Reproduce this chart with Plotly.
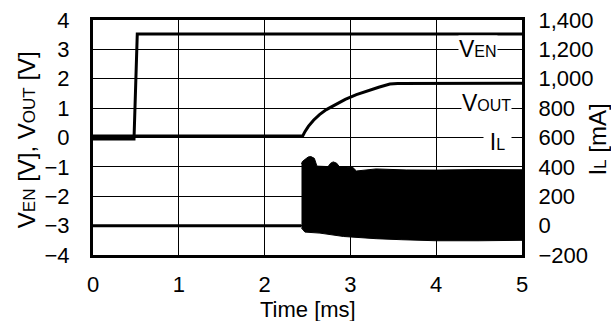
import plotly.graph_objects as go

# ---- data ----
ven_t = [0, 0.478, 0.516, 5]
ven_v = [-0.05, -0.05, 3.52, 3.52]

vout_t = [0, 2.444, 2.47, 2.51, 2.57, 2.64, 2.72, 2.82, 2.94, 3.07, 3.2, 3.33, 3.46, 3.55, 5]
vout_v = [0.05, 0.05, 0.2, 0.38, 0.59, 0.78, 0.95, 1.12, 1.30, 1.46, 1.59, 1.71, 1.82, 1.84, 1.85]

il_pre_t = [0, 2.43]
il_pre_ma = [0, 0]

# envelope of the fast-switching inductor current (mA)
il_top_t = [2.43, 2.44, 2.48, 2.51, 2.54, 2.58, 2.61, 2.74, 2.77, 2.80, 2.84, 2.87, 3.03, 3.07, 3.3, 3.65, 4.0, 4.5, 5.0]
il_top_ma = [420, 436, 455, 468, 470, 458, 405, 402, 425, 434, 425, 402, 395, 372, 386, 379, 378, 382, 380]
il_bot_t = [2.43, 2.47, 2.645, 2.92, 3.3, 3.6, 4.0, 4.5, 5.0]
il_bot_ma = [-17, -44, -51, -74, -89, -96, -103, -103, -100]

x_ticks = [0, 1, 2, 3, 4, 5]
left_ticks = [-4, -3, -2, -1, 0, 1, 2, 3, 4]
right_ticks = [-200, 0, 200, 400, 600, 800, 1000, 1200, 1400]

FONT = "Liberation Sans, Arial, sans-serif"
FS = 22      # tick labels, x title
FT = 24      # y titles
FT_SUB = 17
FL = 23      # in-plot labels
FL_SUB = 16

fig = go.Figure()

band_x = il_top_t + il_bot_t[::-1]
band_y = il_top_ma + il_bot_ma[::-1]
fig.add_trace(go.Scatter(x=band_x, y=band_y, yaxis="y2", mode="lines",
                         fill="toself", fillcolor="black",
                         line=dict(color="black", width=1), hoverinfo="skip"))
fig.add_trace(go.Scatter(x=il_pre_t, y=il_pre_ma, yaxis="y2", mode="lines",
                         line=dict(color="black", width=3)))
fig.add_trace(go.Scatter(x=ven_t, y=ven_v, mode="lines",
                         line=dict(color="black", width=3)))
fig.add_trace(go.Scatter(x=vout_t, y=vout_v, mode="lines",
                         line=dict(color="black", width=3)))

axis_common = dict(showline=True, linecolor="black", linewidth=3,
                   gridcolor="black", gridwidth=1, zeroline=False, automargin=False,
                   tickfont=dict(size=FS, color="black", family=FONT), ticks="")

fig.update_layout(
    width=611, height=321, autosize=False,
    margin=dict(l=93, r=89, t=20, b=66),
    paper_bgcolor="white", plot_bgcolor="white",
    showlegend=False,
    font=dict(family=FONT, size=FS, color="black"),
    xaxis=dict(range=[0, 5], tickvals=x_ticks, showgrid=True, mirror=True,
               ticklabelstandoff=8, **axis_common),
    yaxis=dict(range=[-4, 4], tickvals=left_ticks, showgrid=True, mirror=True,
               ticklabelstandoff=16, **axis_common),
    yaxis2=dict(range=[-200, 1400], tickvals=right_ticks, tickformat=",",
                overlaying="y", side="right", showgrid=False,
                ticklabelstandoff=9, **axis_common),
)

def sp(t, s):
    return f"<span style='font-size:{s}px'>{t}</span>"

ann = [
    dict(x=4.49, y=3.0, xref="x", yref="y", text="V" + sp("EN", FL_SUB)),
    dict(x=4.59, y=1.16, xref="x", yref="y", text="V" + sp("OUT", FL_SUB)),
    dict(x=4.72, y=-0.15, xref="x", yref="y", text="I" + sp("L", FL_SUB), width=27),
]
for a in ann:
    fig.add_annotation(showarrow=False, bgcolor="white", borderpad=0,
                       font=dict(size=FL, color="black", family=FONT),
                       xanchor="center", yanchor="middle", **a)

fig.add_annotation(x=-0.156, y=0.489, xref="paper", yref="paper", showarrow=False,
                   textangle=-90, xanchor="center", yanchor="middle",
                   text="V" + sp("EN", FT_SUB) + " [V], V" + sp("OUT", FT_SUB) + " [V]",
                   font=dict(size=FT, color="black", family=FONT))
fig.add_annotation(x=1.176, y=0.489, xref="paper", yref="paper", showarrow=False,
                   textangle=-90, xanchor="center", yanchor="middle",
                   text="I" + sp("L", FT_SUB) + " [mA]",
                   font=dict(size=FT, color="black", family=FONT))
fig.add_annotation(x=0.5, y=-0.23, xref="paper", yref="paper", showarrow=False,
                   xanchor="center", yanchor="middle", text="Time [ms]",
                   font=dict(size=FS, color="black", family=FONT))

fig.write_html("out.html", config={"displayModeBar": False},
               post_script="document.body.style.margin='0';document.body.style.overflow='hidden';")
